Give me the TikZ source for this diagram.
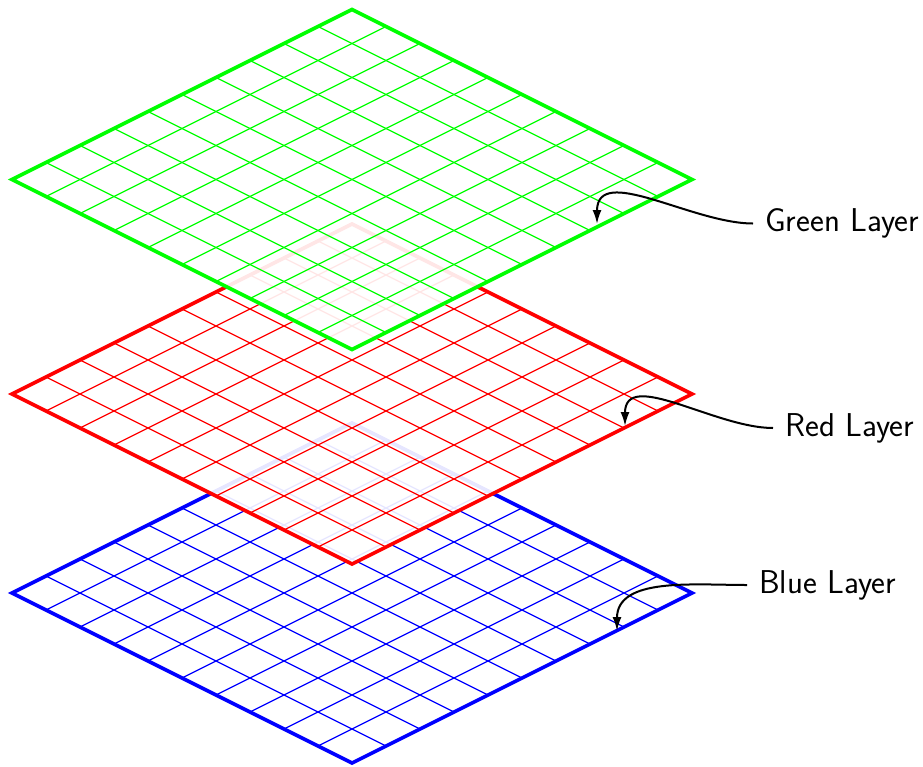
\documentclass[tikz,border=0pt]{standalone}
\usetikzlibrary{arrows.meta}
\newcommand\drawgridlayer[2]{% #1 = centre y (px), #2 = colour
  \fill[layerfill] (12,{#1}) -- (352,{#1+170}) -- (692,{#1}) -- (352,{#1-170}) -- cycle;
  \foreach \i in {1,...,9}{
    \draw[gridline,#2] ({12+34*\i},{#1+17*\i}) -- ++(340,-170);
    \draw[gridline,#2] ({12+34*\i},{#1-17*\i}) -- ++(340,170);
  }
  \draw[layerborder,#2] (12,{#1}) -- (352,{#1+170}) -- (692,{#1}) -- (352,{#1-170}) -- cycle;
}
\begin{document}
\begin{tikzpicture}[x=1pt,y=-1pt,
  gridline/.style={line width=1.2pt},
  layerborder/.style={line width=3.6pt, line join=miter},
  layerfill/.style={fill=white, fill opacity=0.9},
  layerlabel/.style={anchor=west, inner xsep=12pt, inner ysep=4pt, font=\sffamily\fontsize{33}{40}\selectfont},
  pointer/.style={line width=2pt, -{Latex[length=14pt,width=9pt]}}]
\useasboundingbox (0,0) rectangle (923,766);
% layers, bottom to top
\drawgridlayer{593}{blue}
\drawgridlayer{394}{red}
\drawgridlayer{179.5}{green}
% labels
\node[layerlabel] (glabel) at (753,223.5) {Green Layer};
\node[layerlabel] (rlabel) at (773,428) {Red Layer};
\node[layerlabel] (blabel) at (747,585) {Blue Layer};
% arrow targets
\coordinate (gtip) at (597,224);
\coordinate (rtip) at (625,426);
\coordinate (btip) at (617,631);
\draw[pointer] (glabel.west) to[out=180,in=90] (gtip);
\draw[pointer] (rlabel.west) to[out=180,in=90] (rtip);
\draw[pointer] (blabel.west) to[out=180,in=90] (btip);
\end{tikzpicture}
\end{document}
